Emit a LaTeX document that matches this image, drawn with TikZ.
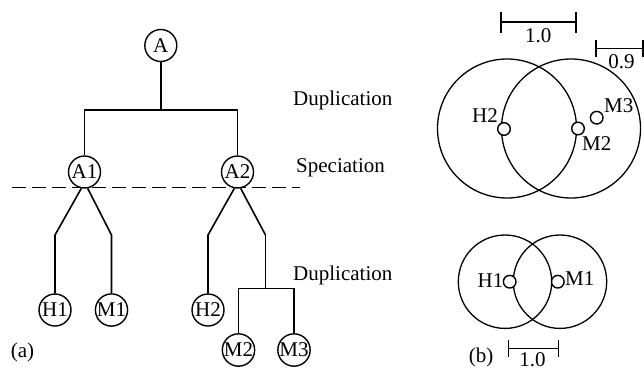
\documentclass[tikz,border=0pt]{standalone}
\usepackage{fontspec}
\setmainfont{Liberation Serif}
\begin{document}
\begin{tikzpicture}[x=1pt,y=-1pt,
  every node/.style={font=\fontsize{21}{24}\selectfont},
  gene/.style={draw,circle,line width=1.4pt,minimum size=32pt,inner sep=0pt},
  branch/.style={line width=1.6pt},
  event/.style={anchor=base west,inner sep=0pt},
  speciesline/.style={line width=1.4pt,dash pattern=on 14pt off 6pt},
  ring/.style={line width=1.3pt},
  dot/.style={draw,circle,line width=1.4pt,minimum size=12.6pt,inner sep=0pt,fill=white},
  tag/.style={inner sep=0pt},
  bar/.style={line width=1.5pt},
  ]
\useasboundingbox (0,0) rectangle (644,370);

% ---------- (a) gene tree ----------
\node[gene] (A)  at (160.8,45.5) {A};
\node[gene] (A1) at (84.5,172)   {A1};
\node[gene] (A2) at (237.5,172)  {A2};
\node[gene] (H1) at (55,310)     {H1};
\node[gene] (M1) at (111.5,310)  {M1};
\node[gene] (H2) at (208,310)    {H2};
\node[gene] (M2) at (238.5,350)  {M2};
\node[gene] (M3) at (294,350)    {M3};

% duplication of A
\coordinate (dupA) at (160.8,110);
\draw[branch] (A) -- (dupA);
\draw[branch] (A1) |- (dupA) -| (A2);

% speciation below A1 and A2
\coordinate (kH1) at (55,235);
\coordinate (kM1) at (111.5,235);
\coordinate (kH2) at (208,235);
\coordinate (kM) at (265.5,235);
\draw[branch] (A1.-101) -- (kH1) -- (H1);
\draw[branch] (A1.-79) -- (kM1) -- (M1);
\draw[branch] (A2.-101) -- (kH2) -- (H2);
\draw[branch] (A2.-79) -- (kM);

% duplication of M2 / M3
\coordinate (dupB) at (265.5,288.5);
\draw[branch] (kM) -- (dupB);
\draw[branch] (M2) |- (dupB) -| (M3);

% species boundary
\coordinate (spL) at (12,187.3);
\coordinate (spR) at (300,187.3);
\draw[speciesline] (spL) -- (spR);

\node[event] (e1) at (293,105) {Duplication};
\node[event] (e2) at (296,172) {Speciation};
\node[event] (e3) at (293,280) {Duplication};
\node[tag] (la) at (22.5,352) {(a)};

% ---------- (b) distance circles ----------
\draw[ring] (507,128.5) circle[radius=69.5pt];
\draw[ring] (571,128.5) circle[radius=69.5pt];
\node[dot] (dH2) at (504,129) {};
\node[dot] (dM2) at (578,128.5) {};
\node[dot] (dM3) at (596.7,117.7) {};
\node[tag,anchor=east] (tH2) at (498,116) {H2};
\node[tag,anchor=west] (tM2) at (582,144) {M2};
\node[tag,anchor=west] (tM3) at (604,105.5) {M3};

\draw[ring] (505,281.7) circle[radius=46.7pt];
\draw[ring] (560,281.7) circle[radius=46.7pt];
\node[dot] (dH1) at (509.7,281.7) {};
\node[dot] (dM1) at (557.8,281.7) {};
\node[tag,anchor=east] (tH1) at (503.5,281) {H1};
\node[tag,anchor=west] (tM1) at (565,279) {M1};

% scale bars
\coordinate (s1a) at (501,22);
\coordinate (s1b) at (576,22);
\draw[bar] (s1a) -- (s1b);
\draw[bar] ([yshift=-10.5pt]s1a) -- ([yshift=10.5pt]s1a);
\draw[bar] ([yshift=-10.5pt]s1b) -- ([yshift=10.5pt]s1b);
\node[tag] (n10a) at (538.3,35.7) {1.0};

\coordinate (s2a) at (596,48.3);
\coordinate (s2b) at (643,48.3);
\draw[bar] (s2a) -- (s2b);
\draw[bar] ([yshift=-8.5pt]s2a) -- ([yshift=8.5pt]s2a);
\draw[bar] ([yshift=-8.5pt]s2b) -- ([yshift=8.5pt]s2b);
\node[tag] (n09) at (621.5,61.7) {0.9};

\coordinate (s3a) at (508.3,348.3);
\coordinate (s3b) at (558.3,348.3);
\draw[bar] (s3a) -- (s3b);
\draw[bar] ([yshift=-8.5pt]s3a) -- ([yshift=8.5pt]s3a);
\draw[bar] ([yshift=-8.5pt]s3b) -- ([yshift=8.5pt]s3b);
\node[tag] (n10b) at (532.5,359.5) {1.0};

\node[tag] (lb) at (481,357) {(b)};
\end{tikzpicture}
\end{document}
